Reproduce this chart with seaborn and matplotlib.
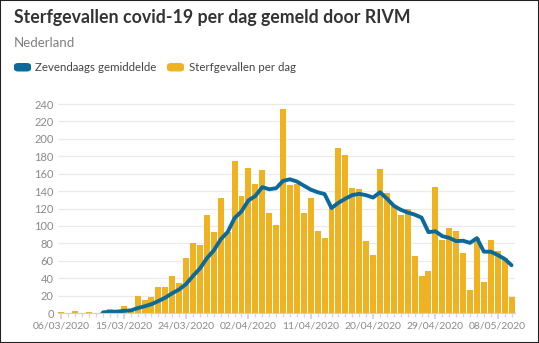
import numpy as np
import pandas as pd
import matplotlib
matplotlib.use("Agg")
import matplotlib.pyplot as plt
from matplotlib.patches import FancyBboxPatch, Rectangle
import seaborn as sns

# ---- data ----
dates = pd.date_range("2020-03-06", "2020-05-10", freq="D")
deaths_per_day = [1, 0, 2, 0, 1, 0, 1, 5, 2, 8, 4, 19, 15, 18, 30, 30, 43, 34, 63, 80,
                  78, 112, 93, 132, 93, 175, 134, 166, 148, 164, 115, 101, 234, 147, 148,
                  115, 132, 94, 86, 122, 189, 181, 144, 142, 83, 67, 165, 138, 123, 112,
                  120, 66, 43, 48, 145, 84, 98, 94, 69, 26, 86, 36, 84, 71, 63, 18]
seven_day_avg = [None] * 6 + [0.71, 1.29, 1.57, 2.43, 3.0, 5.57, 7.71, 10.14, 13.71, 17.71,
                  22.71, 27.0, 33.29, 42.57, 51.14, 62.86, 71.86, 84.57, 93.0, 109.0,
                  116.71, 129.29, 134.43, 144.57, 142.14, 143.29, 151.71, 153.57, 151.0,
                  146.29, 141.71, 138.71, 136.57, 120.57, 126.57, 131.29, 135.43, 136.86,
                  135.29, 132.57, 138.71, 131.43, 123.14, 118.57, 115.43, 113.0, 109.57,
                  92.86, 93.86, 88.29, 86.29, 82.57, 83.0, 80.57, 86.0, 70.43, 70.43,
                  66.57, 62.14, 54.86]
tick_labels = ["06/03/2020", "15/03/2020", "24/03/2020", "02/04/2020",
               "11/04/2020", "20/04/2020", "29/04/2020", "08/05/2020"]
y_ticks = [0, 20, 40, 60, 80, 100, 120, 140, 160, 180, 200, 220, 240]

title = "Sterfgevallen covid-19 per dag gemeld door RIVM"
subtitle = "Nederland"
legend_avg = "Zevendaags gemiddelde"
legend_bar = "Sterfgevallen per dag"

BAR = "#EFB322"
LINE = "#0B6A9C"
FONT = "Lato"

day_idx = np.arange(len(dates))
df = pd.DataFrame({"day": day_idx, "deaths": deaths_per_day,
                   "avg": pd.array(seven_day_avg, dtype="Float64").astype(float)})

sns.set_theme(style="white")
plt.rcParams["font.family"] = [FONT, "DejaVu Sans"]

W, H = 539, 343
fig = plt.figure(figsize=(W / 100, H / 100), dpi=100)
fig.patch.set_facecolor("white")

def fx(px):
    return px / W

def fy(py):
    return 1 - py / H

ax = fig.add_axes([fx(58), fy(313), fx(515) - fx(58), fy(102.3) - fy(313)])

sns.barplot(data=df, x="day", y="deaths", native_scale=True, color=BAR,
            saturation=1, width=0.86, ax=ax, linewidth=0, errorbar=None)
sns.lineplot(data=df.dropna(), x="day", y="avg", color=LINE, linewidth=2.8,
             ax=ax, solid_capstyle="round", solid_joinstyle="round")

ax.set_xlim(-0.5, 65.5)
ax.set_ylim(0, 242)
ax.set_yticks(y_ticks)
ax.set_yticklabels([str(v) for v in y_ticks])
ax.set_xticks(day_idx[::9])
ax.set_xticklabels(tick_labels)
ax.set_xticks(day_idx, minor=True)
ax.set_xlabel("")
ax.set_ylabel("")
ax.yaxis.grid(True, color="#ebebeb", linewidth=0.9)
ax.set_axisbelow(True)
for s in ["top", "right", "left"]:
    ax.spines[s].set_visible(False)
ax.spines["bottom"].set_color("#d0d0d0")
ax.spines["bottom"].set_linewidth(0.8)
ax.tick_params(axis="y", length=0, pad=3, labelsize=8.0, labelcolor="#8a8a8a")
ax.tick_params(axis="x", which="major", length=4, color="#d0d0d0", pad=2,
               labelsize=7.5, labelcolor="#8a8a8a", bottom=True)
ax.tick_params(axis="x", which="minor", length=3, color="#d8d8d8", bottom=True)

# header
fig.text(fx(14), fy(18), title, fontsize=12.75, fontweight="bold",
         color="#333333", va="center", ha="left")
fig.text(fx(14), fy(47), subtitle, fontsize=9.5, color="#808080",
         va="baseline", ha="left")

# legend
for x0, col, txt, tx in [(14, LINE, legend_avg, 35), (167, BAR, legend_bar, 189)]:
    fig.patches.append(FancyBboxPatch((fx(x0), fy(71.5)), fx(17), fy(63) - fy(71.5),
                                      boxstyle="round,pad=0,rounding_size=0.008",
                                      transform=fig.transFigure, facecolor=col,
                                      edgecolor="none"))
    fig.text(fx(tx), fy(71), txt, fontsize=8.3, color="#444444",
             va="baseline", ha="left")

fig.patches.append(Rectangle((0, 0), 1, 1, transform=fig.transFigure,
                             fill=False, edgecolor="#222222", linewidth=1.5))

fig.savefig("out.png", dpi=100)
